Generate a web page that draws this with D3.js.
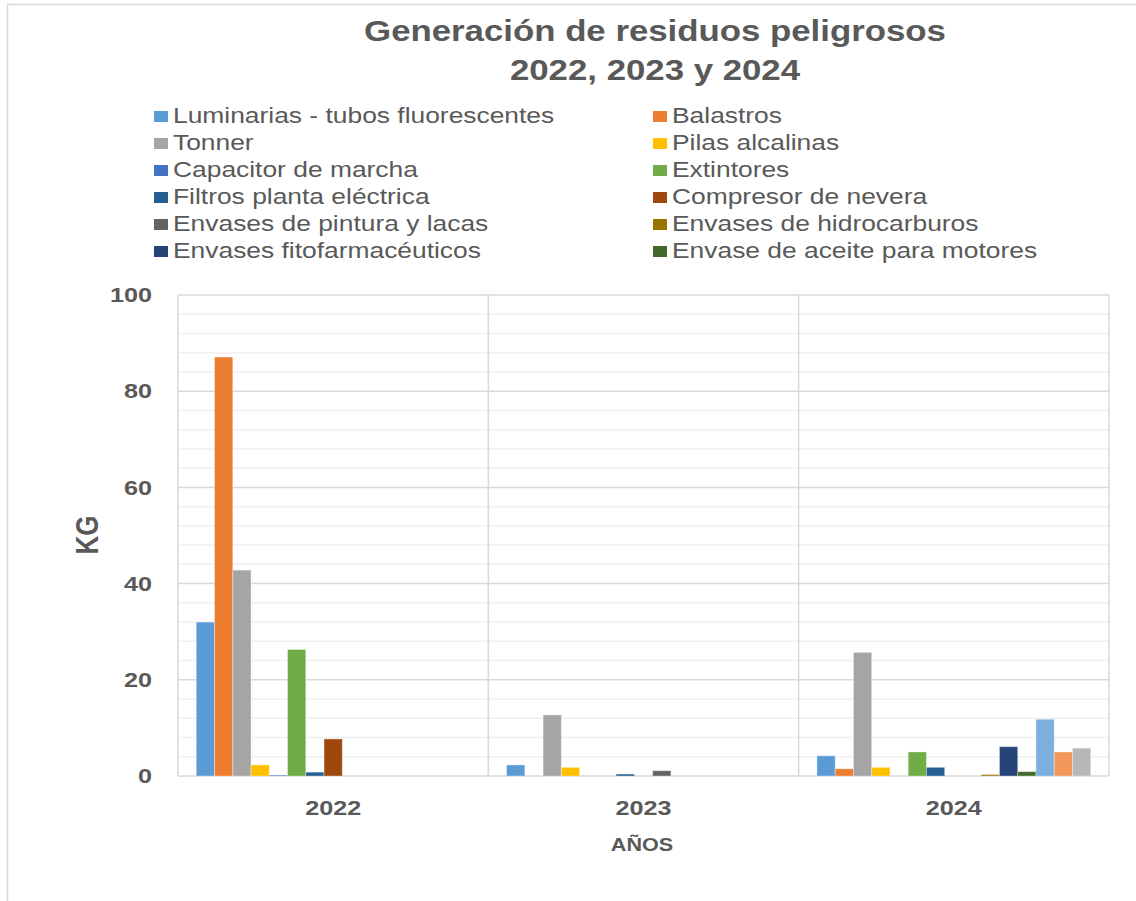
<!DOCTYPE html>
<html>
<head>
<meta charset="utf-8">
<script src="https://cdn.jsdelivr.net/npm/d3@7"></script>
<style>
  html, body { margin: 0; padding: 0; background: #fff; }
  svg { display: block; font-family: "Liberation Sans", Arial, sans-serif; }
</style>
</head>
<body>
<svg id="chart" width="1136" height="901"></svg>
<script>
// Años (categorías del eje X)
const years = ["2022", "2023", "2024"];

// Tipos de residuo (series), en el orden de las barras
const seriesNames = [
  "Luminarias - tubos fluorescentes",
  "Balastros",
  "Tonner",
  "Pilas alcalinas",
  "Capacitor de marcha",
  "Extintores",
  "Filtros planta eléctrica",
  "Compresor de nevera",
  "Envases de pintura y lacas",
  "Envases de hidrocarburos",
  "Envases fitofarmacéuticos",
  "Envase de aceite para motores",
  "Luminarias LED",
  "Tóner de impresora",
  "Residuos electrónicos"
];

// Kg generados por serie, un valor por año (2022, 2023, 2024)
const luminarias    = [32.0, 2.3, 4.2];
const balastros     = [87.1, 0, 1.5];
const tonner        = [42.8, 12.7, 25.7];
const pilas         = [2.3, 1.8, 1.8];
const capacitor     = [0.2, 0, 0];
const extintores    = [26.3, 0, 5.0];
const filtros       = [0.8, 0.4, 1.8];
const compresor     = [7.7, 0, 0];
const pintura       = [0, 1.1, 0];
const hidrocarburos = [0, 0, 0.3];
const fitofarma     = [0, 0, 6.1];
const aceite        = [0, 0, 0.9];
const ledLum        = [0, 0, 11.8];
const tonerImp      = [0, 0, 5.0];
const electronicos  = [0, 0, 5.8];

const seriesValues = [luminarias, balastros, tonner, pilas, capacitor, extintores,
  filtros, compresor, pintura, hidrocarburos, fitofarma, aceite, ledLum, tonerImp, electronicos];

// Series que aparecen en la leyenda (dos columnas)
const legendCount = 12;

const yTicks = [0, 20, 40, 60, 80, 100];

const colors = ["#5B9BD5", "#ED7D31", "#A5A5A5", "#FFC000", "#4472C4", "#70AD47",
  "#255E91", "#9E480E", "#636363", "#997300", "#264478", "#43682B",
  "#7CAFDD", "#F1975A", "#B7B7B7"];

const svg = d3.select("#chart");
const textColor = "#595959";
const sx = 1.2; // ensanchamiento horizontal del texto

// Marco exterior
svg.append("path")
  .attr("d", "M7.5,901 V4.5 H1136")
  .attr("fill", "none").attr("stroke", "#d9d9d9").attr("stroke-width", 1.5);

const plot = { left: 178, right: 1109, top: 295, bottom: 776 };

const x0 = d3.scaleBand().domain(years).range([plot.left, plot.right]).padding(0);
const slots = seriesNames.length;
const bw = x0.bandwidth() / (slots + 2);
const x1 = d3.scaleBand().domain(d3.range(slots))
  .range([bw, bw * (slots + 1)]).padding(0);
const y = d3.scaleLinear().domain([0, 100]).range([plot.bottom, plot.top]);

// Líneas de división secundarias y principales
const g = svg.append("g");
g.selectAll("line.minor").data(d3.range(0, 101, 4).filter(v => v % 20 !== 0))
  .join("line").attr("class", "minor")
  .attr("x1", plot.left).attr("x2", plot.right)
  .attr("y1", d => y(d)).attr("y2", d => y(d))
  .attr("stroke", "#f0f0f0").attr("stroke-width", 1.5);
g.selectAll("line.major").data(yTicks)
  .join("line").attr("class", "major")
  .attr("x1", plot.left).attr("x2", plot.right)
  .attr("y1", d => y(d)).attr("y2", d => y(d))
  .attr("stroke", "#d9d9d9").attr("stroke-width", 1.5);
g.selectAll("line.vert").data(years.map(d => x0(d)).concat([plot.right]))
  .join("line").attr("class", "vert")
  .attr("x1", d => d).attr("x2", d => d)
  .attr("y1", plot.top).attr("y2", plot.bottom)
  .attr("stroke", "#d9d9d9").attr("stroke-width", 1.5);

// Barras
const groups = svg.append("g").selectAll("g").data(years).join("g")
  .attr("transform", d => `translate(${x0(d)},0)`);
groups.selectAll("rect")
  .data((yr, i) => seriesValues.map((vals, s) => ({ s, v: vals[i] })).filter(d => d.v > 0))
  .join("rect")
  .attr("x", d => x1(d.s))
  .attr("width", x1.bandwidth())
  .attr("y", d => y(d.v))
  .attr("height", d => y(0) - y(d.v))
  .attr("fill", d => colors[d.s])
  .attr("stroke", "rgba(255,255,255,0.35)")
  .attr("stroke-width", 1);

// Eje Y
const yAxis = d3.axisLeft(y).tickValues(yTicks).tickSize(0).tickPadding(0);
const ya = svg.append("g").attr("transform", `translate(152,0)`).call(yAxis);
ya.select(".domain").remove();
ya.selectAll("text").attr("fill", textColor).attr("x", 0)
  .attr("transform", `scale(${sx},1)`)
  .style("font-size", "21px").style("font-weight", "bold");

// Eje X
const xAxis = d3.axisBottom(x0).tickSize(0).tickPadding(0);
const xa = svg.append("g").attr("transform", `translate(0,${plot.bottom + 24})`).call(xAxis);
xa.select(".domain").remove();
xa.selectAll("text").attr("fill", textColor).attr("y", 0)
  .attr("transform", `scale(${sx},1)`)
  .style("font-size", "21px").style("font-weight", "bold");

// Títulos de ejes
svg.append("text").attr("transform", `translate(642,851) scale(${sx},1)`)
  .attr("text-anchor", "middle").attr("fill", textColor)
  .style("font-size", "18px").style("font-weight", "bold").text("AÑOS");
svg.append("text").attr("transform", `translate(98,535) scale(${sx},1) rotate(-90)`)
  .attr("text-anchor", "middle").attr("fill", textColor)
  .style("font-size", "26px").style("font-weight", "bold").text("KG");

// Título
svg.append("text").attr("transform", `translate(655,41) scale(${sx},1)`)
  .attr("text-anchor", "middle").attr("fill", textColor)
  .style("font-size", "29px").style("font-weight", "bold")
  .text("Generación de residuos peligrosos");
svg.append("text").attr("transform", `translate(655,80) scale(${sx},1)`)
  .attr("text-anchor", "middle").attr("fill", textColor)
  .style("font-size", "29px").style("font-weight", "bold")
  .text("2022, 2023 y 2024");

// Leyenda
const legend = svg.append("g");
const legItems = legend.selectAll("g").data(d3.range(legendCount)).join("g")
  .attr("transform", i => `translate(${i % 2 === 0 ? 154 : 653},${114 + Math.floor(i / 2) * 27})`);
legItems.append("rect").attr("x", 0).attr("y", -3).attr("width", 14).attr("height", 11)
  .attr("fill", i => colors[i]);
legItems.append("text").attr("transform", `translate(19,8.5) scale(${sx},1)`)
  .attr("fill", textColor)
  .style("font-size", "22px").text(i => seriesNames[i]);
</script>
</body>
</html>
